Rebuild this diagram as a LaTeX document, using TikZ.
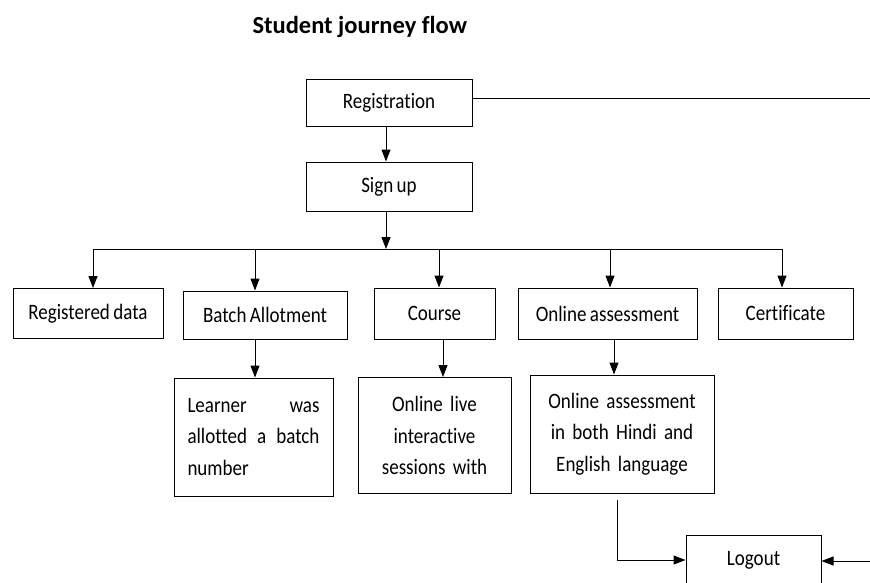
\documentclass[tikz,border=0pt]{standalone}
\usepackage{fontspec}
\setmainfont{Carlito}[Ligatures=NoCommon]
\newfontfamily\boxfont{Carlito}[FakeStretch=0.865, WordSpace=0.8, Ligatures=NoCommon]
\usetikzlibrary{arrows.meta}

\tikzset{
	box/.style={draw, line width=1pt, inner sep=0pt, align=center, font=\boxfont\fontsize{22}{31.5}\selectfont},
	arr/.style={line width=1pt, -{Triangle[length=12pt,width=9pt]}},
	link/.style={line width=1pt},
}

\begin{document}
\begin{tikzpicture}[x=1pt, y=-1pt]

		\useasboundingbox (0,0) rectangle (870,582);
		\clip (0,0) rectangle (870,582);

		\pgfmathsetmacro{\bary}{249}
		\pgfmathsetmacro{\rowy}{313.5}
		\pgfmathsetmacro{\infoy}{435.5}

		\node[anchor=base west, font=\fontsize{24.5}{28}\selectfont\bfseries] (title) at (249,33) {Student journey flow};

		% top of the flow
		\node[box, minimum width=166pt, minimum height=47pt] (reg) at (389,102.5) {Registration};
		\node[box, minimum width=166pt, minimum height=49pt] (signup) at (389,186.5) {Sign up};

		% second row
		\node[box, minimum width=150pt, minimum height=50pt] (regdata) at (88,\rowy) {Registered data};
		\node[box, minimum width=164pt, minimum height=48pt] (batch) at (265,315) {Batch Allotment};
		\node[box, minimum width=121pt, minimum height=51pt] (course) at (434.5,\rowy) {Course};
		\node[box, minimum width=179pt, minimum height=51pt] (assess) at (607.5,\rowy) {Online assessment};
		\node[box, minimum width=135pt, minimum height=51pt] (cert) at (785.5,\rowy) {Certificate};

		% third row
		\node[box, minimum width=159pt, minimum height=118pt, text width=132pt, align=justify] (learner) at (253.5,437) {Learner\hfill was\\allotted\hfill a\hfill batch\\number};
		\node[box, minimum width=153pt, minimum height=116pt, text width=145pt] (live) at (434.5,\infoy) {Online live\\interactive\\sessions with};
		\node[box, minimum width=184pt, minimum height=118pt, text width=176pt] (assessinfo) at (622,434) {Online assessment\\in both Hindi and\\English language};

		\node[box, minimum width=135pt, minimum height=50pt] (logout) at (753.5,560) {Logout};

		% free ends and the bar
		\coordinate (regout) at (870,98);
		\coordinate (logoutin) at (870,561);
		\coordinate (assessout) at (617,500);
		\coordinate (drop-regdata) at (93,\bary);
		\coordinate (drop-batch) at (255,\bary);
		\coordinate (drop-course) at (439,\bary);
		\coordinate (drop-assess) at (610,\bary);
		\coordinate (drop-cert) at (782,\bary);

		\draw[arr] (reg.south -| 386,0) -- (signup.north -| 386,0); % arrow down
		\draw[arr] (signup.south -| 386,0) -- (drop-course -| 386,0); % arrow to bar
		\draw[link] (drop-regdata) -- (drop-cert);
		\foreach \nd in {regdata, batch, course, assess, cert}
		{
			\draw[arr] (drop-\nd) -- (\nd.north -| drop-\nd);
		}

		\draw[arr] (batch.south -| 255,0) -- (learner.north -| 255,0);
		\draw[arr] (course.south -| 443,0) -- (live.north -| 443,0);
		\draw[arr] (assess.south -| 614,0) -- (assessinfo.north -| 614,0);

		\draw[link] (reg.east |- regout) -- (regout);
		\draw[arr] (assessout) |- (logout.west);
		\draw[arr] (logoutin) -- (logout.east |- logoutin);

\end{tikzpicture}
\end{document}
